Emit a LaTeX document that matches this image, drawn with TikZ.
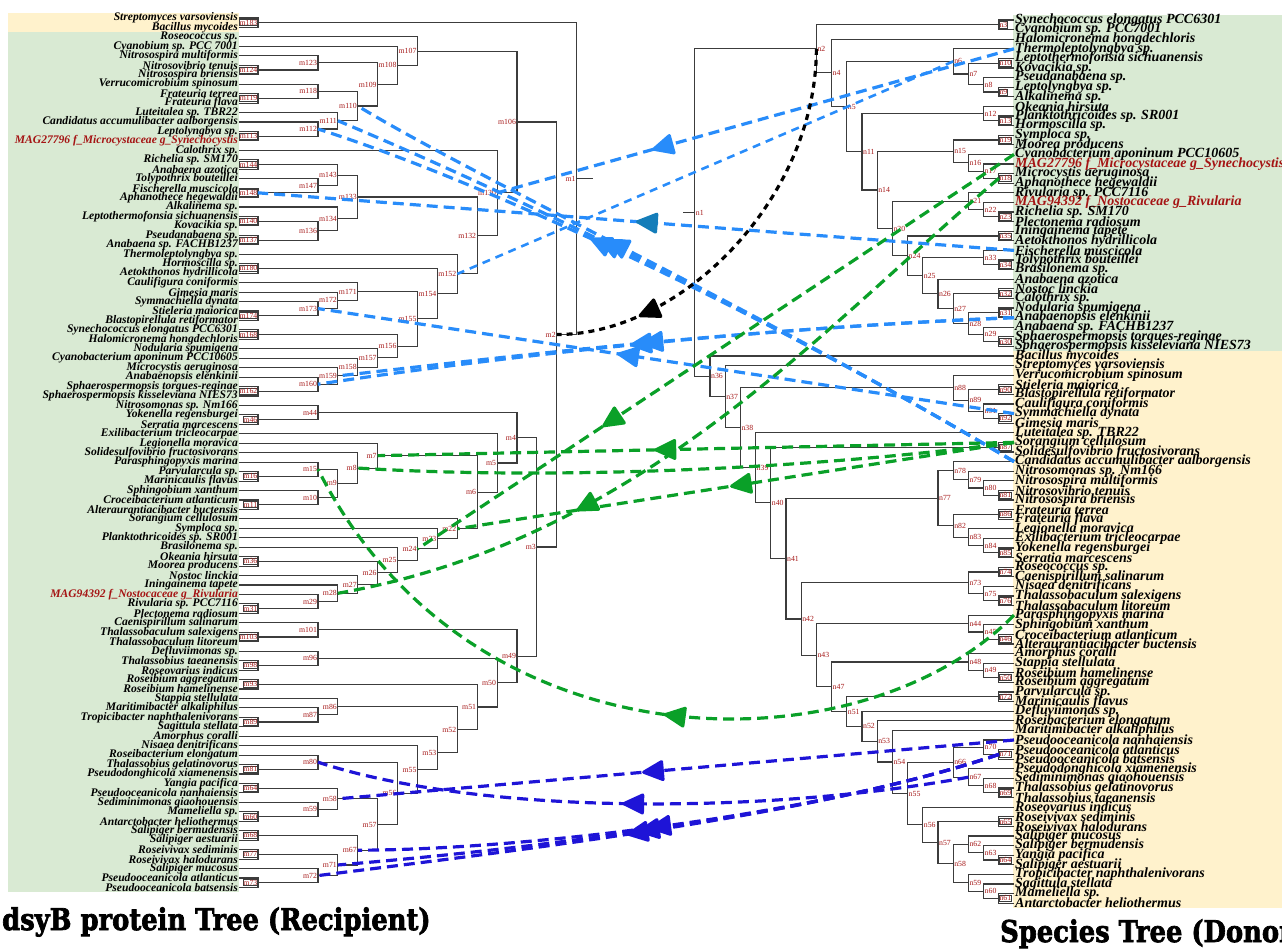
\documentclass[tikz,border=0pt]{standalone}
\usepackage{fontspec}
\setmainfont{Liberation Serif}
\newfontfamily\kopfont{DejaVu Serif}[BoldFeatures={FakeBold=2.5}]
\usetikzlibrary{arrows.meta,decorations.markings,calc}

\definecolor{magred}{RGB}{165,20,20}
\definecolor{lblred}{RGB}{165,25,25}
\definecolor{bggreen}{RGB}{217,234,211}
\definecolor{bgbeige}{RGB}{255,242,204}
\definecolor{xblue}{RGB}{40,140,250}
\definecolor{xteal}{RGB}{20,125,185}
\definecolor{xgreen}{RGB}{10,160,40}
\definecolor{xnavy}{RGB}{30,20,215}
\definecolor{tgray}{RGB}{60,60,60}

\tikzset{
  leafL/.style={anchor=east, inner sep=1pt, font=\fontsize{11.6}{11}\selectfont\bfseries\itshape},
  leafR/.style={anchor=west, inner sep=1pt, font=\fontsize{14}{11}\selectfont\bfseries\itshape},
  tline/.style={draw=tgray, line width=1.1pt},
  labL/.style={anchor=east, inner sep=0.4pt, text=lblred, font=\fontsize{7.8}{8}\selectfont},
  labR/.style={anchor=west, inner sep=0.4pt, text=lblred, font=\fontsize{7.8}{8}\selectfont},
  cherry/.style={draw=tgray, fill=white, line width=0.6pt},
  overdracht/.style={line width=3.2pt, dash pattern=on 11pt off 6pt},
  pijl/.style={postaction={decorate, decoration={markings,
      mark=at position #1 with {\arrow{Triangle[length=24pt,width=22pt,round]}}}}},
  pijl/.default=0.5,
  tealpijl/.style={postaction={decorate, decoration={markings,
      mark=at position #1 with {\arrow[xteal]{Triangle[length=24pt,width=22pt,round]}}}}},
  tealpijl/.default=0.5,
  titel/.style={anchor=base west, inner sep=0pt, xscale=0.86,
      font=\kopfont\bfseries\fontsize{30}{32}\selectfont},
}

% knoop links: naam, hoogte, kind1, kind2
\newcommand\lknoop[4]{%
  \path let \p1=(#3), \p2=(#4) in
    coordinate (#1) at ({(#2==1 ? 258 : 318+19.9*(#2-2))*1pt}, {0.5*(\y1+\y2)});
  \draw[tline] (#3) -| (#1);
  \draw[tline] (#4) -| (#1);
  \ifnum#2=1 \node[labL, cherry] (#1-l) at (#1) {#1};
  \else \node[labL] (#1-l) at ([xshift=-0.5pt]#1) {#1};\fi
}
% knoop rechts: naam, hoogte, kind1, kind2
\newcommand\rknoop[4]{%
  \path let \p1=(#3), \p2=(#4) in
    coordinate (#1) at ({(1014-15.2*#2)*1pt}, {0.5*(\y1+\y2)});
  \draw[tline] (#3) -| (#1);
  \draw[tline] (#4) -| (#1);
  \ifnum#2=1 \node[labR, cherry] (#1-l) at (#1) {#1};
  \else \node[labR] (#1-l) at ([xshift=0.5pt]#1) {#1};\fi
}

\begin{document}
\begin{tikzpicture}[x=1pt, y=-1pt]
  \useasboundingbox (0,0) rectangle (1282,948);

  % Achtergronden
  \fill[bgbeige] (8,13) rectangle (239,32);
  \fill[bggreen] (8,32) rectangle (239,892);
  \fill[bggreen] (1013,15) rectangle (1282,351);
  \fill[bgbeige] (1013,351) rectangle (1282,908);

  % Bladeren links (ontvanger)
  \foreach \nm [count=\i] in {Streptomyces varsoviensis, Bacillus mycoides, Roseococcus sp.,
    Cyanobium sp. PCC 7001, Nitrosospira multiformis, Nitrosovibrio tenuis, Nitrosospira briensis,
    Verrucomicrobium spinosum, Frateuria terrea, Frateuria flava, Luteitalea sp. TBR22,
    Candidatus accumulibacter aalborgensis, Leptolyngbya sp.,
    \textcolor{magred}{MAG27796 f\_Microcystaceae g\_Synechocystis},
    Calothrix sp., Richelia sp. SM170, Anabaena azotica, Tolypothrix bouteillei,
    Fischerella muscicola, Aphanothece hegewaldii, Alkalinema sp., Leptothermofonsia sichuanensis,
    Kovacikia sp., Pseudanabaena sp., Anabaena sp. FACHB1237, Thermoleptolyngbya sp.,
    Hormoscilla sp., Aetokthonos hydrillicola, Caulifigura coniformis, Gimesia maris,
    Symmachiella dynata, Stieleria maiorica, Blastopirellula retiformator,
    Synechococcus elongatus PCC6301, Halomicronema hongdechloris, Nodularia spumigena,
    Cyanobacterium aponinum PCC10605, Microcystis aeruginosa, Anabaenopsis elenkinii,
    Sphaerospermopsis torques-reginae, Sphaerospermopsis kisseleviana NIES73,
    Nitrosomonas sp. Nm166, Yokenella regensburgei, Serratia marcescens,
    Exilibacterium tricleocarpae, Legionella moravica, Solidesulfovibrio fructosivorans,
    Parasphingopyxis marina, Parvularcula sp., Marinicaulis flavus, Sphingobium xanthum,
    Croceibacterium atlanticum, Alteraurantiacibacter buctensis, Sorangium cellulosum,
    Symploca sp., Planktothricoides sp. SR001, Brasilonema sp., Okeania hirsuta,
    Moorea producens, Nostoc linckia, Iningainema tapete,
    \textcolor{magred}{MAG94392 f\_Nostocaceae g\_Rivularia},
    Rivularia sp. PCC7116, Plectonema radiosum, Caenispirillum salinarum,
    Thalassobaculum salexigens, Thalassobaculum litoreum, Defluviimonas sp.,
    Thalassobius taeanensis, Roseovarius indicus, Roseibium aggregatum, Roseibium hamelinense,
    Stappia stellulata, Maritimibacter alkaliphilus, Tropicibacter naphthalenivorans,
    Sagittula stellata, Amorphus coralli, Nisaea denitrificans, Roseibacterium elongatum,
    Thalassobius gelatinovorus, Pseudodonghicola xiamenensis, Yangia pacifica,
    Pseudooceanicola nanhaiensis, Sediminimonas qiaohouensis, Mameliella sp.,
    Antarctobacter heliothermus, Salipiger bermudensis, Salipiger aestuarii,
    Roseivivax sediminis, Roseivivax halodurans, Salipiger mucosus,
    Pseudooceanicola atlanticus, Pseudooceanicola batsensis}
    \node[leafL] (A\i) at (239, {18+(\i-1)*9.45}) {\nm};

  % Bladeren rechts (donor)
  \foreach \nm [count=\i] in {Synechococcus elongatus PCC6301, Cyanobium sp. PCC7001,
    Halomicronema hongdechloris, Thermoleptolyngbya sp., Leptothermofonsia sichuanensis,
    Kovacikia sp., Pseudanabaena sp., Leptolyngbya sp., Alkalinema sp., Okeania hirsuta,
    Planktothricoides sp. SR001, Hormoscilla sp., Symploca sp., Moorea producens,
    Cyanobacterium aponinum PCC10605,
    \textcolor{magred}{MAG27796 f\_Microcystaceae g\_Synechocystis},
    Microcystis aeruginosa, Aphanothece hegewaldii, Rivularia sp. PCC7116,
    \textcolor{magred}{MAG94392 f\_Nostocaceae g\_Rivularia},
    Richelia sp. SM170, Plectonema radiosum, Iningainema tapete, Aetokthonos hydrillicola,
    Fischerella muscicola, Tolypothrix bouteillei, Brasilonema sp., Anabaena azotica,
    Nostoc linckia, Calothrix sp., Nodularia spumigena, Anabaenopsis elenkinii,
    Anabaena sp. FACHB1237, Sphaerospermopsis torques-reginae,
    Sphaerospermopsis kisseleviana NIES73, Bacillus mycoides, Streptomyces varsoviensis,
    Verrucomicrobium spinosum, Stieleria maiorica, Blastopirellula retiformator,
    Caulifigura coniformis, Symmachiella dynata, Gimesia maris, Luteitalea sp. TBR22,
    Sorangium cellulosum, Solidesulfovibrio fructosivorans,
    Candidatus accumulibacter aalborgensis, Nitrosomonas sp. Nm166, Nitrosospira multiformis,
    Nitrosovibrio tenuis, Nitrosospira briensis, Frateuria terrea, Frateuria flava,
    Legionella moravica, Exilibacterium tricleocarpae, Yokenella regensburgei,
    Serratia marcescens, Roseococcus sp., Caenispirillum salinarum, Nisaea denitrificans,
    Thalassobaculum salexigens, Thalassobaculum litoreum, Parasphingopyxis marina,
    Sphingobium xanthum, Croceibacterium atlanticum, Alteraurantiacibacter buctensis,
    Amorphus coralli, Stappia stellulata, Roseibium hamelinense, Roseibium aggregatum,
    Parvularcula sp., Marinicaulis flavus, Defluviimonas sp., Roseibacterium elongatum,
    Maritimibacter alkaliphilus, Pseudooceanicola nanhaiensis, Pseudooceanicola atlanticus,
    Pseudooceanicola batsensis, Pseudodonghicola xiamenensis, Sediminimonas qiaohouensis,
    Thalassobius gelatinovorus, Thalassobius taeanensis, Roseovarius indicus,
    Roseivivax sediminis, Roseivivax halodurans, Salipiger mucosus, Salipiger bermudensis,
    Yangia pacifica, Salipiger aestuarii, Tropicibacter naphthalenivorans,
    Sagittula stellata, Mameliella sp., Antarctobacter heliothermus}
    \node[leafR] (B\i) at (1014, {20+(\i-1)*9.6}) {\nm};

  % Interne knopen links
  \lknoop{m183}{1}{A1.east}{A2.east}
  \lknoop{m124}{1}{A6.east}{A7.east}
  \lknoop{m123}{2}{A5.east}{m124}
  \lknoop{m119}{1}{A9.east}{A10.east}
  \lknoop{m118}{2}{A8.east}{m119}
  \lknoop{m113}{1}{A13.east}{A14.east}
  \lknoop{m112}{2}{A12.east}{m113}
  \lknoop{m111}{3}{A11.east}{m112}
  \lknoop{m110}{4}{m118}{m111}
  \lknoop{m109}{5}{m123}{m110}
  \lknoop{m108}{6}{A4.east}{m109}
  \lknoop{m107}{7}{A3.east}{m108}
  \lknoop{m144}{1}{A16.east}{A17.east}
  \lknoop{m148}{1}{A19.east}{A20.east}
  \lknoop{m147}{2}{A18.east}{m148}
  \lknoop{m143}{3}{m144}{m147}
  \lknoop{m140}{1}{A22.east}{A23.east}
  \lknoop{m137}{1}{A24.east}{A25.east}
  \lknoop{m136}{2}{m140}{m137}
  \lknoop{m134}{3}{A21.east}{m136}
  \lknoop{m133}{4}{m143}{m134}
  \lknoop{m180}{1}{A27.east}{A28.east}
  \lknoop{m174}{1}{A32.east}{A33.east}
  \lknoop{m173}{2}{A31.east}{m174}
  \lknoop{m172}{3}{A30.east}{m173}
  \lknoop{m171}{4}{A29.east}{m172}
  \lknoop{m168}{1}{A34.east}{A35.east}
  \lknoop{m162}{1}{A40.east}{A41.east}
  \lknoop{m160}{2}{A39.east}{m162}
  \lknoop{m159}{3}{A38.east}{m160}
  \lknoop{m158}{4}{A37.east}{m159}
  \lknoop{m157}{5}{A36.east}{m158}
  \lknoop{m156}{6}{m168}{m157}
  \lknoop{m155}{7}{m171}{m156}
  \lknoop{m154}{8}{m180}{m155}
  \lknoop{m152}{9}{A26.east}{m154}
  \lknoop{m132}{10}{m133}{m152}
  \lknoop{m130}{11}{A15.east}{m132}
  \lknoop{m106}{12}{m107}{m130}
  \lknoop{m46}{1}{A43.east}{A44.east}
  \lknoop{m44}{2}{A42.east}{m46}
  \lknoop{m16}{1}{A49.east}{A50.east}
  \lknoop{m15}{2}{A48.east}{m16}
  \lknoop{m11}{1}{A52.east}{A53.east}
  \lknoop{m10}{2}{A51.east}{m11}
  \lknoop{m9}{3}{m15}{m10}
  \lknoop{m8}{4}{A47.east}{m9}
  \lknoop{m7}{5}{A46.east}{m8}
  \lknoop{m36}{1}{A58.east}{A59.east}
  \lknoop{m31}{1}{A63.east}{A64.east}
  \lknoop{m29}{2}{A62.east}{m31}
  \lknoop{m28}{3}{A61.east}{m29}
  \lknoop{m27}{4}{A60.east}{m28}
  \lknoop{m26}{5}{m36}{m27}
  \lknoop{m25}{6}{A57.east}{m26}
  \lknoop{m24}{7}{A56.east}{m25}
  \lknoop{m23}{8}{A55.east}{m24}
  \lknoop{m22}{9}{A54.east}{m23}
  \lknoop{m6}{10}{m7}{m22}
  \lknoop{m5}{11}{A45.east}{m6}
  \lknoop{m4}{12}{m44}{m5}
  \lknoop{m103}{1}{A66.east}{A67.east}
  \lknoop{m101}{2}{A65.east}{m103}
  \lknoop{m98}{1}{A69.east}{A70.east}
  \lknoop{m96}{2}{A68.east}{m98}
  \lknoop{m93}{1}{A71.east}{A72.east}
  \lknoop{m89}{1}{A75.east}{A76.east}
  \lknoop{m87}{2}{A74.east}{m89}
  \lknoop{m86}{3}{A73.east}{m87}
  \lknoop{m81}{1}{A80.east}{A81.east}
  \lknoop{m80}{2}{A79.east}{m81}
  \lknoop{m64}{1}{A82.east}{A83.east}
  \lknoop{m60}{1}{A85.east}{A86.east}
  \lknoop{m59}{2}{A84.east}{m60}
  \lknoop{m58}{3}{m64}{m59}
  \lknoop{m68}{1}{A87.east}{A88.east}
  \lknoop{m77}{1}{A89.east}{A90.east}
  \lknoop{m73}{1}{A92.east}{A93.east}
  \lknoop{m72}{2}{A91.east}{m73}
  \lknoop{m71}{3}{m77}{m72}
  \lknoop{m67}{4}{m68}{m71}
  \lknoop{m57}{5}{m58}{m67}
  \lknoop{m56}{6}{m80}{m57}
  \lknoop{m55}{7}{A78.east}{m56}
  \lknoop{m53}{8}{A77.east}{m55}
  \lknoop{m52}{9}{m86}{m53}
  \lknoop{m51}{10}{m93}{m52}
  \lknoop{m50}{11}{m96}{m51}
  \lknoop{m49}{12}{m101}{m50}
  \lknoop{m3}{13}{m4}{m49}
  \lknoop{m2}{14}{m106}{m3}
  \lknoop{m1}{15}{m183}{m2}
  \draw[tline] (m1) -- ++(16,0);

  % Interne knopen rechts
  \rknoop{n3}{1}{B1.west}{B2.west}
  \rknoop{n10}{1}{B5.west}{B6.west}
  \rknoop{n9}{1}{B8.west}{B9.west}
  \rknoop{n8}{2}{B7.west}{n9}
  \rknoop{n7}{3}{n10}{n8}
  \rknoop{n6}{4}{B4.west}{n7}
  \rknoop{n13}{1}{B11.west}{B12.west}
  \rknoop{n12}{2}{B10.west}{n13}
  \rknoop{n19}{1}{B13.west}{B14.west}
  \rknoop{n18}{1}{B17.west}{B18.west}
  \rknoop{n17}{2}{B16.west}{n18}
  \rknoop{n16}{3}{B15.west}{n17}
  \rknoop{n15}{4}{n19}{n16}
  \rknoop{n23}{1}{B21.west}{B22.west}
  \rknoop{n22}{2}{B20.west}{n23}
  \rknoop{n21}{3}{B19.west}{n22}
  \rknoop{n35}{1}{B23.west}{B24.west}
  \rknoop{n34}{1}{B26.west}{B27.west}
  \rknoop{n33}{2}{B25.west}{n34}
  \rknoop{n32}{1}{B29.west}{B30.west}
  \rknoop{n31}{1}{B31.west}{B32.west}
  \rknoop{n30}{1}{B34.west}{B35.west}
  \rknoop{n29}{2}{B33.west}{n30}
  \rknoop{n28}{3}{n31}{n29}
  \rknoop{n27}{4}{n32}{n28}
  \rknoop{n26}{5}{B28.west}{n27}
  \rknoop{n25}{6}{n33}{n26}
  \rknoop{n24}{7}{n35}{n25}
  \rknoop{n20}{8}{n21}{n24}
  \rknoop{n14}{9}{n15}{n20}
  \rknoop{n11}{10}{n12}{n14}
  \rknoop{n5}{11}{n6}{n11}
  \rknoop{n4}{12}{B3.west}{n5}
  \rknoop{n2}{13}{n3}{n4}
  \rknoop{n90}{1}{B39.west}{B40.west}
  \rknoop{n92}{1}{B42.west}{B43.west}
  \rknoop{n91}{2}{B41.west}{n92}
  \rknoop{n89}{3}{n90}{n91}
  \rknoop{n88}{4}{B38.west}{n89}
  \rknoop{n87}{1}{B45.west}{B46.west}
  \rknoop{n81}{1}{B50.west}{B51.west}
  \rknoop{n80}{2}{B49.west}{n81}
  \rknoop{n79}{3}{B48.west}{n80}
  \rknoop{n78}{4}{B47.west}{n79}
  \rknoop{n86}{1}{B52.west}{B53.west}
  \rknoop{n85}{1}{B56.west}{B57.west}
  \rknoop{n84}{2}{B55.west}{n85}
  \rknoop{n83}{3}{B54.west}{n84}
  \rknoop{n82}{4}{n86}{n83}
  \rknoop{n77}{5}{n78}{n82}
  \rknoop{n74}{1}{B58.west}{B59.west}
  \rknoop{n76}{1}{B61.west}{B62.west}
  \rknoop{n75}{2}{B60.west}{n76}
  \rknoop{n73}{3}{n74}{n75}
  \rknoop{n46}{1}{B65.west}{B66.west}
  \rknoop{n45}{2}{B64.west}{n46}
  \rknoop{n44}{3}{B63.west}{n45}
  \rknoop{n50}{1}{B69.west}{B70.west}
  \rknoop{n49}{2}{B68.west}{n50}
  \rknoop{n48}{3}{B67.west}{n49}
  \rknoop{n72}{1}{B71.west}{B72.west}
  \rknoop{n71}{1}{B77.west}{B78.west}
  \rknoop{n70}{2}{B76.west}{n71}
  \rknoop{n69}{1}{B81.west}{B82.west}
  \rknoop{n68}{2}{B80.west}{n69}
  \rknoop{n67}{3}{B79.west}{n68}
  \rknoop{n66}{4}{n70}{n67}
  \rknoop{n65}{1}{B84.west}{B85.west}
  \rknoop{n64}{1}{B88.west}{B89.west}
  \rknoop{n63}{2}{B87.west}{n64}
  \rknoop{n62}{3}{B86.west}{n63}
  \rknoop{n61}{1}{B92.west}{B93.west}
  \rknoop{n60}{2}{B91.west}{n61}
  \rknoop{n59}{3}{B90.west}{n60}
  \rknoop{n58}{4}{n62}{n59}
  \rknoop{n57}{5}{n65}{n58}
  \rknoop{n56}{6}{B83.west}{n57}
  \rknoop{n55}{7}{n66}{n56}
  \rknoop{n54}{8}{B75.west}{n55}
  \rknoop{n53}{9}{B74.west}{n54}
  \rknoop{n52}{10}{B73.west}{n53}
  \rknoop{n51}{11}{n72}{n52}
  \rknoop{n47}{12}{n48}{n51}
  \rknoop{n43}{13}{n44}{n47}
  \rknoop{n42}{14}{n73}{n43}
  \rknoop{n41}{15}{n77}{n42}
  \rknoop{n40}{16}{n87}{n41}
  \rknoop{n39}{17}{B44.west}{n40}
  \rknoop{n38}{18}{n88}{n39}
  \rknoop{n37}{19}{B37.west}{n38}
  \rknoop{n36}{20}{B36.west}{n37}
  \rknoop{n1}{21}{n2}{n36}
  \draw[tline] (n1) -- ++(-12,0);

  % Overdrachten (blauw)
  \draw[overdracht, xblue, pijl=0.7] (B4.west) -- (m130);
  \draw[overdracht, xblue, line width=2.6pt, dash pattern=on 8pt off 6pt] (n6) -- (m152);
  \draw[overdracht, xblue, tealpijl=0.5] (B25.west) -- (m148);
  \foreach \k in {m110,m111,m112}
    \draw[overdracht, xblue, pijl=0.62] (B47.west) .. controls (760,310) and (480,180) .. (\k);
  \draw[overdracht, xblue, pijl=0.57] (B42.west) -- (m173);
  \foreach \k in {m159,m160}
    \draw[overdracht, xblue, pijl=0.55] (B32.west) .. controls (720,330) and (480,360) .. (\k);

  % Overdrachten (groen)
  \draw[overdracht, xgreen, pijl=0.565] (B45.west) -- (m7);
  \draw[overdracht, xgreen] (B45.west) .. controls (800,470) and (550,480) .. (m8);
  \draw[overdracht, xgreen, pijl=0.51] (B45.west) -- (m22);
  \draw[overdracht, xgreen, pijl=0.69] (B15.west) -- (m24);
  \draw[overdracht, xgreen, pijl=0.68] (n18) .. controls (820,330) and (640,540) .. (m28);
  \draw[overdracht, xgreen, pijl=0.46] (B63.west) .. controls (860,772) and (470,772) .. (m15);

  % Overdrachten (donkerblauw)
  \draw[overdracht, xnavy, pijl=0.55] (B76.west) -- (m58);
  \draw[overdracht, xnavy, pijl=0.53] (n67) .. controls (760,815) and (480,815) .. (m80);
  \foreach \k in {m67,m71,m72}
    \draw[overdracht, xnavy, pijl=0.55] (n71) .. controls (820,815) and (520,850) .. (\k);

  % Zwarte boog
  \draw[overdracht, black, dash pattern=on 6pt off 5pt, pijl=0.8]
    (n2) .. controls (816,200) and (680,335) .. (m2);

  % Titels
  \node[titel] (titelL) at (2,930) {dsyB protein Tree (Recipient)};
  \node[titel] (titelR) at (1000,942) {Species Tree (Donor)};
\end{tikzpicture}
\end{document}
